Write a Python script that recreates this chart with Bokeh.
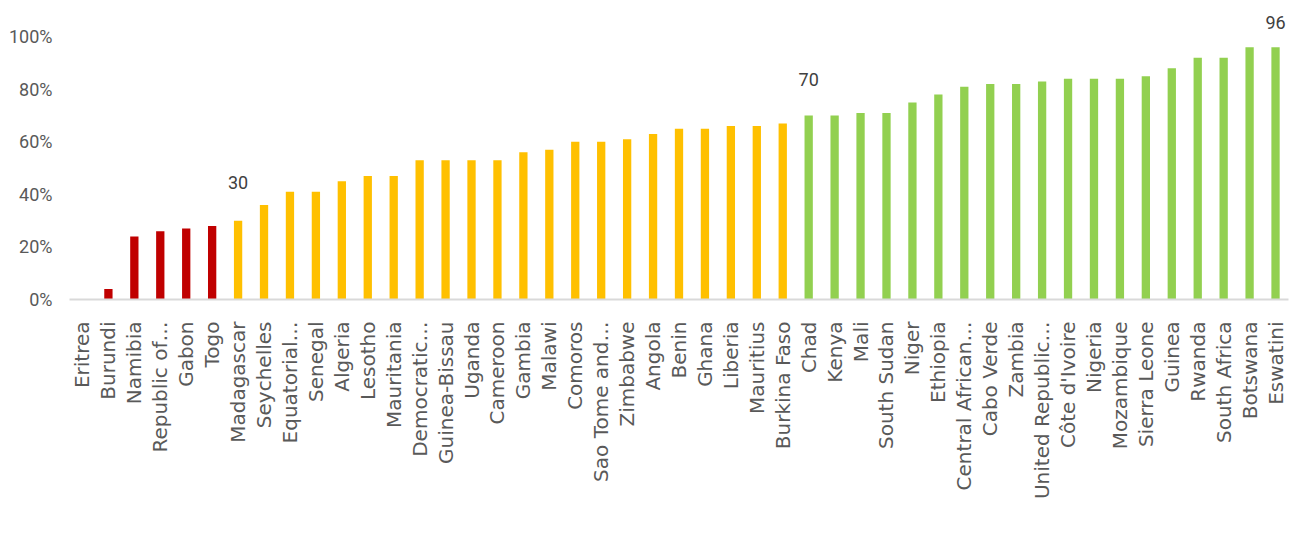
import math
from bokeh.plotting import figure
from bokeh.models import FixedTicker, Range1d, ColumnDataSource
from bokeh.core.properties import value
from bokeh.embed import file_html
from bokeh.resources import INLINE

countries = [
    "Eritrea", "Burundi", "Namibia", "Republic of…", "Gabon", "Togo", "Madagascar",
    "Seychelles", "Equatorial…", "Senegal", "Algeria", "Lesotho", "Mauritania",
    "Democratic…", "Guinea-Bissau", "Uganda", "Cameroon", "Gambia", "Malawi",
    "Comoros", "Sao Tome and…", "Zimbabwe", "Angola", "Benin", "Ghana", "Liberia",
    "Mauritius", "Burkina Faso", "Chad", "Kenya", "Mali", "South Sudan", "Niger",
    "Ethiopia", "Central African…", "Cabo Verde", "Zambia", "United Republic…",
    "Côte d'Ivoire", "Nigeria", "Mozambique", "Sierra Leone", "Guinea", "Rwanda",
    "South Africa", "Botswana", "Eswatini",
]
values = [
    0, 4, 24, 26, 27, 28, 30,
    36, 41, 41, 45, 47, 47,
    53, 53, 53, 53, 56, 57,
    60, 60, 61, 63, 65, 65, 66,
    66, 67, 70, 70, 71, 71, 75,
    78, 81, 82, 82, 83,
    84, 84, 84, 85, 88, 92,
    92, 96, 96,
]
annotated = ["Madagascar", "Chad", "Eswatini"]
y_ticks = [0, 20, 40, 60, 80, 100]
y_tick_labels = ["0%", "20%", "40%", "60%", "80%", "100%"]

# styles
RED, YELLOW, GREEN = "#C00000", "#FFC000", "#92D050"
label_offsets = [-38, -36, -25]

colors = [RED if v < 30 else (YELLOW if v < 70 else GREEN) for v in values]
src = ColumnDataSource(dict(x=countries, top=values, color=colors))

p = figure(
    x_range=countries, y_range=Range1d(0, 110),
    frame_width=1219, frame_height=289,
    min_border_left=69, min_border_right=4, min_border_top=10, min_border_bottom=220,
    output_backend="svg", toolbar_location=None,
)
p.outline_line_color = None
p.background_fill_color = "white"
p.border_fill_color = "white"
p.xgrid.grid_line_color = None
p.ygrid.grid_line_color = None

p.vbar(x="x", top="top", width=0.32, bottom=0, color="color", line_color=None, source=src)

ann_idx = [countries.index(c) for c in annotated]
lbl_src = ColumnDataSource(dict(
    x=[countries[i] for i in ann_idx],
    y=[values[i] for i in ann_idx],
    text=[f"{values[i]:.0f}" for i in ann_idx],
    off=label_offsets,
))
p.text(x="x", y="y", text="text", y_offset="off", source=lbl_src,
       text_align="center", text_baseline="middle",
       text_font=value("Roboto"), text_font_size="18px", text_color="#404040")

# y axis
p.yaxis.ticker = FixedTicker(ticks=y_ticks)
p.yaxis.major_label_overrides = {t: l for t, l in zip(y_ticks, y_tick_labels)}
p.yaxis.axis_line_color = None
p.yaxis.major_tick_line_color = None
p.yaxis.minor_tick_line_color = None
p.yaxis.major_label_standoff = 11
p.yaxis.major_label_text_font = "Roboto"
p.yaxis.major_label_text_font_size = "18px"
p.yaxis.major_label_text_color = "#595959"

# x axis
p.xaxis.axis_line_color = "#D9D9D9"
p.xaxis.axis_line_width = 2
p.xaxis.major_tick_line_color = None
p.xaxis.minor_tick_line_color = None
p.xaxis.major_label_orientation = math.pi / 2
p.xaxis.major_label_standoff = 16
p.xaxis.major_label_text_font = "DejaVu Sans"
p.xaxis.major_label_text_font_size = "20px"
p.xaxis.major_label_text_color = "#595959"

open("out.html", "w").write(file_html(p, INLINE))
